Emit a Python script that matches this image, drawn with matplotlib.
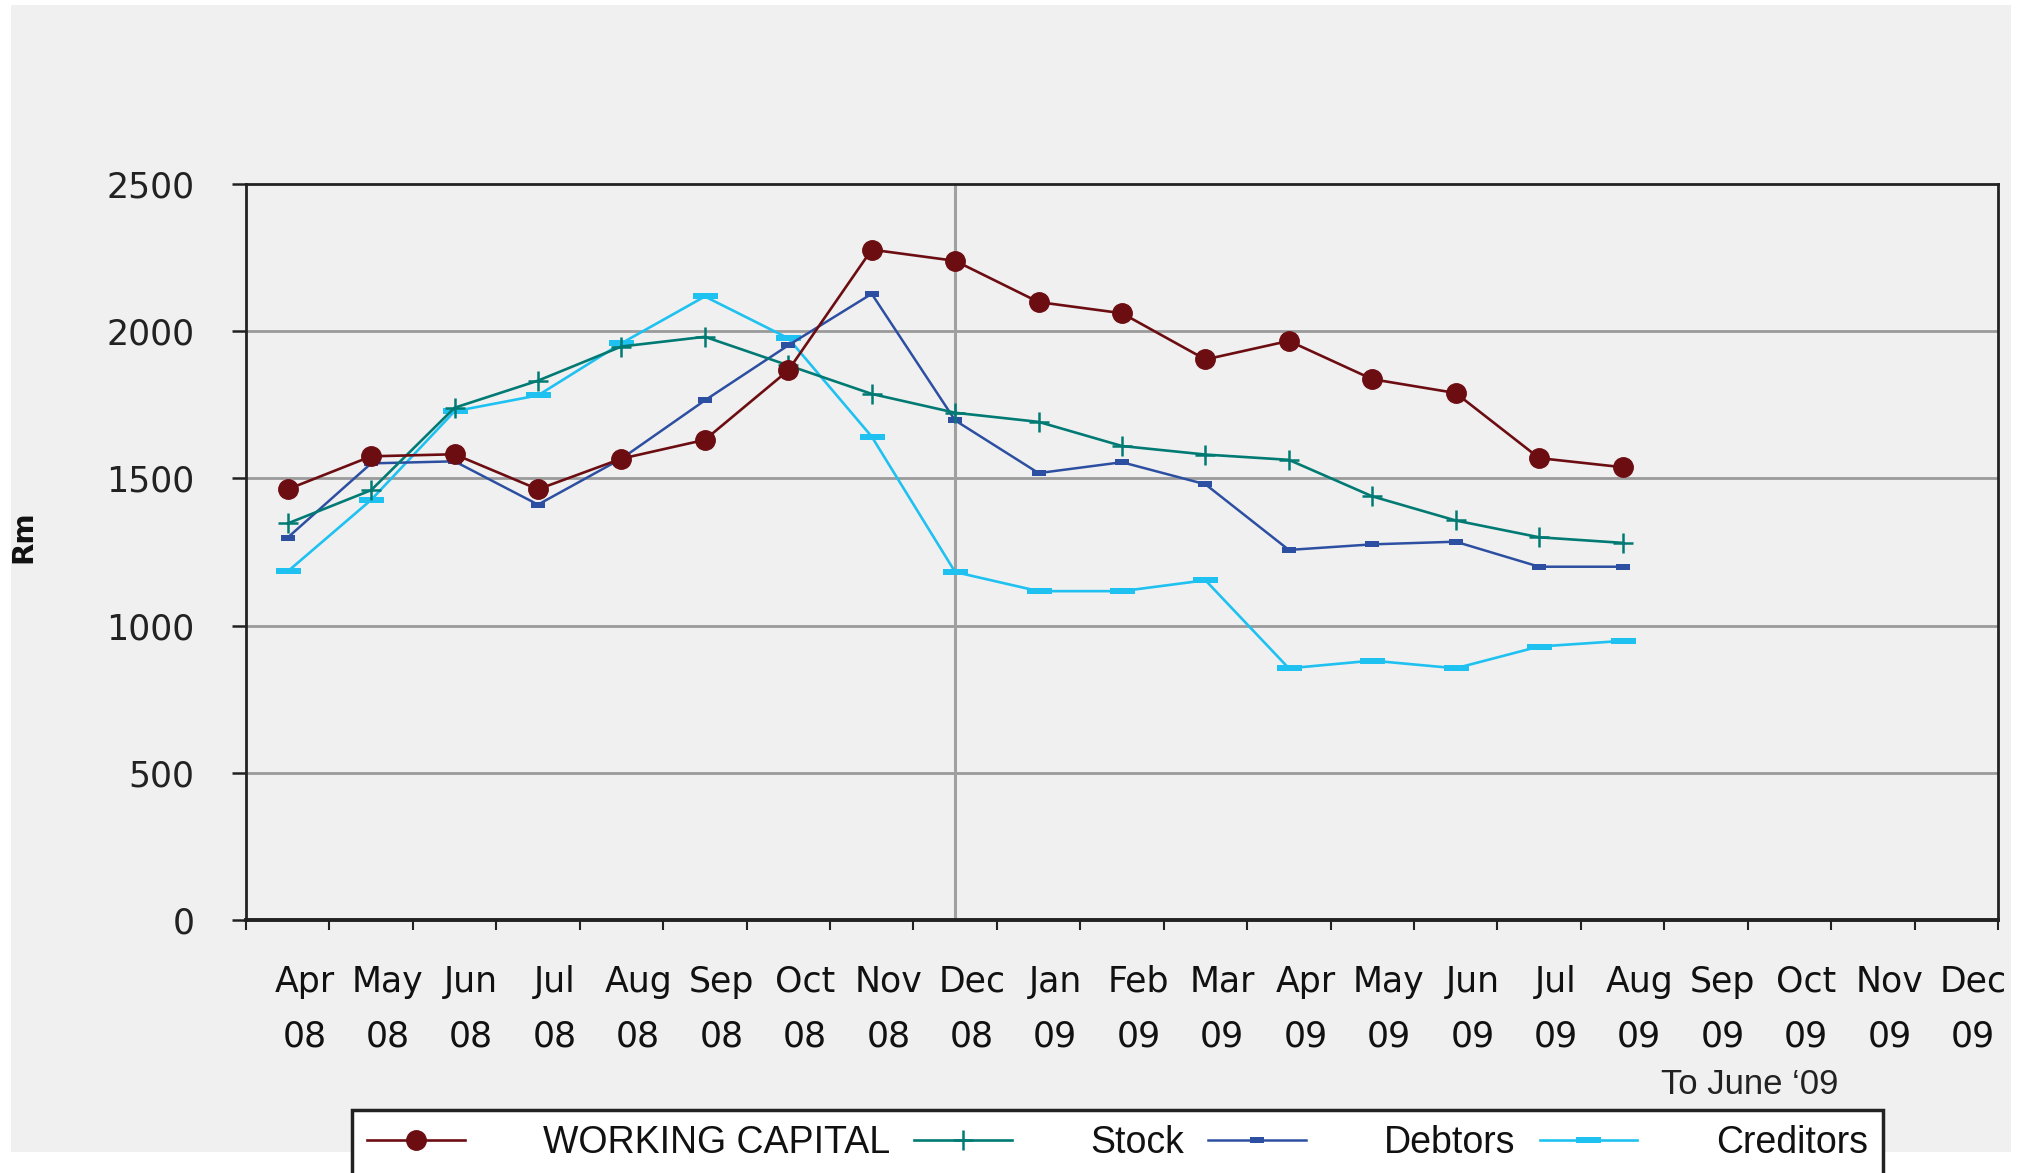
import numpy as np
import matplotlib
matplotlib.use('Agg')
import matplotlib.pyplot as plt
from matplotlib.patches import Rectangle
import matplotlib.transforms as mtransforms

months = ['Apr', 'May', 'Jun', 'Jul', 'Aug', 'Sep', 'Oct', 'Nov', 'Dec',
          'Jan', 'Feb', 'Mar', 'Apr', 'May', 'Jun', 'Jul', 'Aug', 'Sep',
          'Oct', 'Nov', 'Dec']
years = ['08'] * 9 + ['09'] * 12

working_capital = [1463, 1575, 1582, 1463, 1567, 1631, 1867, 2277, 2239,
                   2099, 2061, 1904, 1967, 1837, 1790, 1569, 1538]
stock = [1347, 1460, 1740, 1832, 1948, 1981, 1884, 1787, 1723,
         1692, 1610, 1581, 1563, 1439, 1357, 1300, 1281]
debtors = [1299, 1551, 1558, 1411, 1567, 1765, 1952, 2127, 1697,
           1518, 1555, 1480, 1257, 1276, 1285, 1200, 1200]
creditors = [1184, 1427, 1728, 1782, 1959, 2118, 1976, 1642, 1182,
             1117, 1117, 1154, 855, 881, 855, 929, 948]

W, H = 2031, 1173
fig = plt.figure(figsize=(W / 100, H / 100), dpi=100, facecolor='white')
fig.patches.append(Rectangle((11 / W, 1 - 1152 / H), 2000 / W, 1147 / H,
                             transform=fig.transFigure, facecolor='#f0f0f0',
                             edgecolor='none', zorder=-10))

ax = fig.add_axes([246 / W, 1 - 920 / H, 1752 / W, 736 / H])
ax.set_facecolor('#f0f0f0')

x = np.arange(len(working_capital))
dash_small = [(-1, -0.39), (1, -0.39), (1, 0.39), (-1, 0.39), (-1, -0.39)]
dash_wide = [(-1, -0.22), (1, -0.22), (1, 0.22), (-1, 0.22), (-1, -0.22)]

ax.plot(x, working_capital, color='#6c0d12', lw=1.9, marker='o', ms=14,
        mec='#6c0d12', label='WORKING CAPITAL', zorder=5)
ax.plot(x, stock, color='#007a73', lw=1.9, marker='+', ms=15, mew=1.8,
        label='Stock', zorder=4)
ax.plot(x, debtors, color='#2d4fa1', lw=1.8, marker=dash_small, ms=10,
        mew=0, label='Debtors', zorder=3)
ax.plot(x, creditors, color='#1fc1f0', lw=1.9, marker=dash_wide, ms=18,
        mew=0, label='Creditors', zorder=2)

ax.set_xlim(-0.5, len(months) - 0.5)
ax.set_ylim(0, 2500)
ax.set_yticks(np.arange(0, 2501, 500))
ax.set_xticks(np.arange(-0.5, len(months)))
ax.set_xticklabels([])

for v in [500, 1000, 1500, 2000]:
    ax.axhline(v, color='#9a9a9a', lw=2, zorder=1)
ax.axvline(8, color='#a0a0a0', lw=2.2, zorder=1)

for side in ['top', 'right', 'left']:
    ax.spines[side].set_color('#222222')
    ax.spines[side].set_linewidth(2)
ax.spines['bottom'].set_color('#222222')
ax.spines['bottom'].set_linewidth(2.8)

ax.tick_params(axis='y', direction='out', length=10, width=1.8,
               color='#222222', labelsize=25, pad=27, labelcolor='#222222')
ax.tick_params(axis='x', direction='out', length=7, width=1.5,
               color='#222222')

trans = mtransforms.blended_transform_factory(ax.transData, ax.transAxes)
for i, (m, yr) in enumerate(zip(months, years)):
    ax.text(i + 0.2, -0.084, m, transform=trans, ha='center', va='center',
            fontsize=25, color='#111111')
    ax.text(i + 0.2, -0.158, yr, transform=trans, ha='center', va='center',
            fontsize=25, color='#111111')

fig.text(23 / W, 1 - 537 / H, 'Rm', rotation=90, ha='center', va='center',
         fontsize=21, fontweight='bold', color='#111111')

fig.text(1750 / W, 1 - 1085 / H, 'To June \u201809', ha='center',
         va='center', fontsize=25, family='Liberation Sans', color='#222222')

leg = fig.legend(loc='upper left',
                 bbox_to_anchor=(352 / W, 1 - 1178 / H, 1531 / W, 68 / H),
                 mode='expand', ncol=4, frameon=True, fancybox=False,
                 handlelength=2.6, handletextpad=2.1, borderpad=0.4,
                 borderaxespad=0, columnspacing=0.5,
                 prop={'family': 'Liberation Sans', 'size': 27})
frame = leg.get_frame()
frame.set_facecolor('white')
frame.set_edgecolor('#222222')
frame.set_linewidth(2.5)
frame.set_alpha(1)
for t in leg.get_texts():
    t.set_color('#111111')

fig.savefig('out.png', dpi=100, facecolor='white')
